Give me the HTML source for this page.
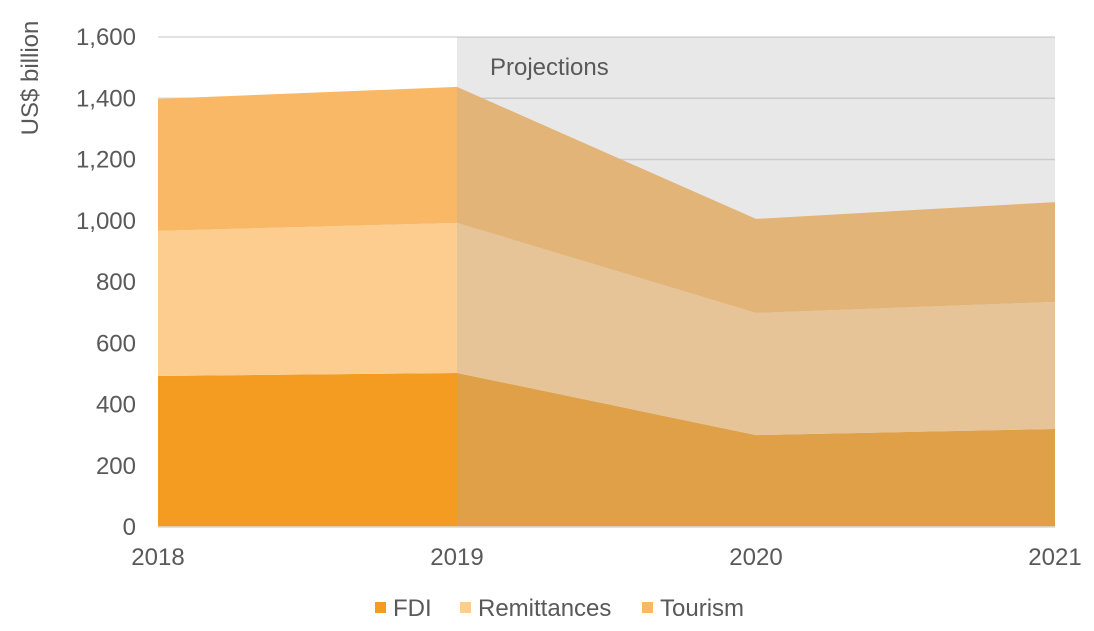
<!DOCTYPE html>
<html><head><meta charset="utf-8"><style>
body{margin:0;background:#fff;}
svg text{font-family:"Liberation Sans",Arial,sans-serif;fill:#595959;}
</style></head><body>
<svg id="chart" width="1094" height="626" xmlns="http://www.w3.org/2000/svg"></svg>
<script>
const years = ["2018","2019","2020","2021"];
const fdi = [493, 503, 300, 320];
const remittances = [474, 490, 399, 415];
const tourism = [431, 444, 307, 326];
const yTicks = [0,200,400,600,800,1000,1200,1400,1600];
const yTickLabels = ["0","200","400","600","800","1,000","1,200","1,400","1,600"];

const svg = document.getElementById('chart');
const NS = "http://www.w3.org/2000/svg";
const x0=158, x1=1055, yb=527, yt=37, ymax=1600;
const xs = i => x0 + (x1-x0)*i/(years.length-1);
const ys = v => yb - (yb-yt)*v/ymax;
function mk(tag, attrs, parent){const e=document.createElementNS(NS,tag);for(const k in attrs)e.setAttribute(k,attrs[k]);(parent||svg).appendChild(e);return e;}

yTicks.forEach((t,i)=>{
  if(t>0){
    const g=mk('line',{x1:x0,x2:x1,y1:ys(t),y2:ys(t),stroke:'#d9d9d9','stroke-width':1.5});
    
    
  }
  const tx=mk('text',{x:136,y:ys(t)+8,'text-anchor':'end','font-size':24});
  tx.textContent=yTickLabels[i];
  
  
});

const series=[["fdi",fdi,"#f39c21"],["remittances",remittances,"#fccd8f"],["tourism",tourism,"#f8b865"]];
let base=years.map(()=>0);
series.forEach(([name,vals,col])=>{
  const top=base.map((b,i)=>b+vals[i]);
  let d="M"+years.map((_,i)=>xs(i)+","+ys(top[i])).join(" L");
  for(let i=years.length-1;i>=0;i--) d+=" L"+xs(i)+","+ys(base[i]);
  d+=" Z";
  const p=mk('path',{d:d,fill:col});
  
  
  base=top;
});

const ov=mk('rect',{x:xs(1),y:yt,width:x1-xs(1),height:yb-yt,fill:'rgb(174,174,174)','fill-opacity':0.28});


const pt=mk('text',{x:490,y:75,'font-size':24});
pt.textContent="Projections";



const ax=mk('line',{x1:x0,x2:x1,y1:yb,y2:yb,stroke:'#d9d9d9','stroke-width':1.5});


years.forEach((yr,i)=>{
  const t=mk('text',{x:xs(i),y:565,'text-anchor':'middle','font-size':24});
  t.textContent=yr;
  
  
});

const yt2=mk('text',{x:0,y:0,'text-anchor':'middle','font-size':24,transform:'translate(38,78) rotate(-90)'});
yt2.textContent="US$ billion";



const leg=[["FDI","#f39c21",375],["Remittances","#fccd8f",460],["Tourism","#f8b865",642]];
leg.forEach(([n,c,x])=>{
  const g=mk('g',{});
  
  
  mk('rect',{x:x,y:602,width:11,height:11,fill:c},g);
  const t=mk('text',{x:x+18,y:616,'font-size':24},g);
  t.textContent=n;
});
</script>
</body></html>
